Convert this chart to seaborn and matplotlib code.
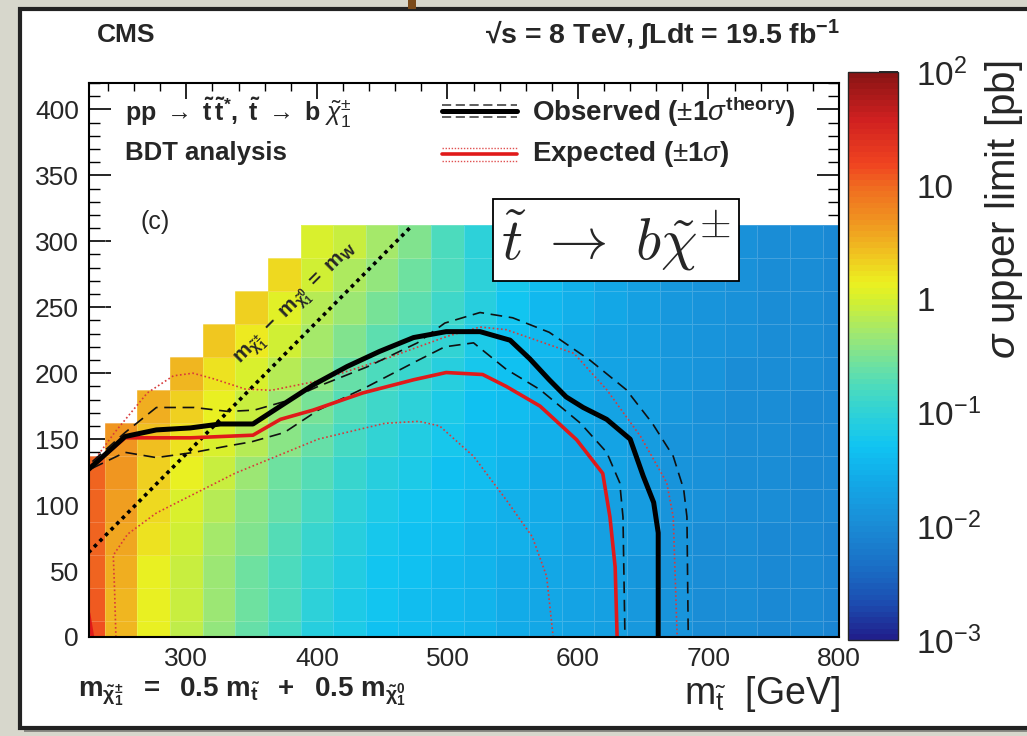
import numpy as np
import matplotlib
matplotlib.use("Agg")
import matplotlib.pyplot as plt
import seaborn as sns
from matplotlib.colors import LinearSegmentedColormap, LogNorm
from matplotlib.patches import Rectangle
from matplotlib.lines import Line2D
from matplotlib.ticker import MultipleLocator, LogLocator, FixedLocator, FixedFormatter, NullFormatter

# grid of signal points
m_stop = [225, 250, 275, 300, 325, 350, 375, 400, 425, 450, 475, 500,
          525, 550, 575, 600, 625, 650, 675, 700, 725, 750, 775, 800]
m_lsp = [0, 25, 50, 75, 100, 125, 150, 175, 200, 225, 250, 275, 300]

# sigma upper limit [pb], one list per m_stop column, bottom -> top
limit_pb = [
    [13, 12, 11, 11, 10, 10],
    [3.0, 3.0, 3.2, 3.6, 4.0, 4.5, 5.0],
    [1.3, 1.3, 1.4, 1.6, 1.8, 2.2, 2.6, 3.2],
    [0.75, 0.8, 0.85, 0.95, 1.1, 1.3, 1.6, 2.2, 3.0],
    [0.42, 0.45, 0.5, 0.55, 0.65, 0.8, 1.0, 1.3, 1.7, 2.5],
    [0.25, 0.26, 0.28, 0.32, 0.38, 0.5, 0.65, 0.85, 1.1, 1.5, 2.2],
    [0.15, 0.16, 0.17, 0.19, 0.23, 0.28, 0.36, 0.48, 0.65, 0.9, 1.2, 1.8],
    [0.085, 0.09, 0.1, 0.12, 0.15, 0.19, 0.23, 0.3, 0.4, 0.52, 0.7, 0.9, 1.1],
    [0.065, 0.068, 0.072, 0.08, 0.095, 0.12, 0.15, 0.19, 0.25, 0.33, 0.45, 0.6, 0.8],
    [0.05, 0.052, 0.055, 0.06, 0.07, 0.085, 0.1, 0.13, 0.17, 0.22, 0.3, 0.4, 0.55],
    [0.042, 0.043, 0.045, 0.05, 0.055, 0.065, 0.075, 0.09, 0.12, 0.15, 0.2, 0.27, 0.35],
    [0.036, 0.037, 0.038, 0.04, 0.045, 0.05, 0.058, 0.068, 0.085, 0.1, 0.13, 0.16, 0.17],
    [0.032, 0.032, 0.033, 0.034, 0.036, 0.04, 0.044, 0.05, 0.058, 0.068, 0.08, 0.09, 0.09],
    [0.028, 0.028, 0.028, 0.029, 0.031, 0.033, 0.036, 0.04, 0.045, 0.05, 0.056, 0.062, 0.07],
    [0.025, 0.025, 0.025, 0.026, 0.027, 0.028, 0.03, 0.032, 0.034, 0.036, 0.038, 0.04, 0.042],
    [0.022, 0.022, 0.022, 0.022, 0.023, 0.024, 0.025, 0.026, 0.027, 0.028, 0.029, 0.03, 0.03],
    [0.018, 0.018, 0.018, 0.019, 0.019, 0.02, 0.021, 0.021, 0.022, 0.022, 0.023, 0.023, 0.023],
    [0.015, 0.015, 0.015, 0.016, 0.016, 0.017, 0.017, 0.018, 0.018, 0.018, 0.018, 0.018, 0.018],
    [0.013, 0.013, 0.013, 0.013, 0.014, 0.014, 0.014, 0.015, 0.015, 0.015, 0.015, 0.015, 0.015],
    [0.011, 0.011, 0.011, 0.011, 0.012, 0.012, 0.012, 0.012, 0.013, 0.013, 0.013, 0.013, 0.013],
    [0.010, 0.010, 0.010, 0.010, 0.011, 0.011, 0.011, 0.011, 0.011, 0.012, 0.012, 0.012, 0.012],
    [0.0095, 0.0095, 0.0095, 0.0095, 0.010, 0.010, 0.010, 0.010, 0.010, 0.011, 0.011, 0.011, 0.011],
    [0.009, 0.009, 0.009, 0.009, 0.0095, 0.0095, 0.0095, 0.0095, 0.010, 0.010, 0.010, 0.010, 0.010],
    [0.0085, 0.0085, 0.0085, 0.0085, 0.009, 0.009, 0.009, 0.009, 0.0095, 0.0095, 0.0095, 0.0095, 0.0095],
]

# exclusion contours (m_stop, m_lsp)
obs_x = [225, 253, 277, 303, 326, 351, 372, 397, 423, 448, 474, 499, 525, 548, 563,
         578, 591, 604, 622, 640, 650, 658, 661.5, 661.5]
obs_y = [127, 152, 157, 158.5, 161.5, 161.5, 175, 191, 205, 216.5, 227, 231.5, 231.5, 225, 211,
         195, 182, 174, 165, 150, 122, 102, 79, 0]
obs_up_x = [228, 253, 277, 306, 332, 352, 375, 401, 439, 477, 498, 525, 550, 578, 609,
            637, 657, 673, 681, 683.5, 684.5]
obs_up_y = [133, 155, 174, 174, 171, 172, 178.5, 190, 205, 223, 238, 246, 242, 231, 210,
            187.5, 162, 137, 112, 91, 0]
obs_dn_x = [228, 253, 277, 306, 330, 350, 375, 401, 439, 478, 498, 520, 545, 571, 602,
            622, 632, 634.5, 636]
obs_dn_y = [128, 140, 136, 140, 144.5, 148, 155, 172, 190, 210, 220, 223, 203, 187.5, 162,
            140, 117, 91, 0]
exp_x = [225, 253, 282, 303, 351, 372, 397, 435, 474, 499, 527, 545, 571, 599, 619,
         624.5, 628.5, 630]
exp_y = [127, 151, 151, 151, 153, 165, 172, 185, 195, 200.5, 199, 190, 175, 149.5, 124,
         91, 53, 0]
exp_up_x = [225, 245, 270, 290, 305, 320, 345, 365, 400, 450, 500, 525, 545, 597, 622,
            648, 668, 673, 676]
exp_up_y = [128, 155, 185, 198, 200, 196, 188, 187, 194, 210, 228, 235, 233, 215, 187.5,
            152, 117, 91, 0]
exp_dn_x = [246, 245, 244, 255, 277, 337, 401, 452, 478, 494, 520, 545, 565, 576, 581]
exp_dn_y = [0, 35, 62, 78, 94, 124, 150, 162, 163.5, 160, 137, 104, 76, 46, 0]
exp_corner_x = [225, 228]
exp_corner_y = [18, 0]
# m_chargino - m_lsp = m_W
diag_x = [225, 473]
diag_y = [64, 312]

cbar_ticks = [1e-3, 1e-2, 1e-1, 1, 10, 100]
cbar_labels = [r"$10^{-3}$", r"$10^{-2}$", r"$10^{-1}$", "1", "10", r"$10^{2}$"]

sns.set_theme(style="ticks")
plt.rcParams["font.family"] = ["Liberation Sans", "DejaVu Sans"]
plt.rcParams["mathtext.fontset"] = "custom"
plt.rcParams["mathtext.rm"] = "Liberation Sans"
plt.rcParams["mathtext.it"] = "Liberation Sans:italic"
plt.rcParams["mathtext.bf"] = "Liberation Sans:bold"
plt.rcParams["mathtext.sf"] = "Liberation Sans"

W, H = 1027, 736
fig = plt.figure(figsize=(W / 100, H / 100), dpi=100, facecolor="#d7d7cc")


def fx(px):
    return px / W


def fy(py):
    return 1 - py / H


# slide frame
fig.patches.append(Rectangle((fx(24), fy(732)), fx(1010), 719 / H, transform=fig.transFigure,
                             fc="#8a8a84", ec="none", zorder=-3))
fig.patches.append(Rectangle((fx(20), fy(728)), fx(1010), 719 / H, transform=fig.transFigure,
                             fc="white", ec="#222222", lw=3, zorder=-2))
fig.patches.append(Rectangle((fx(408), fy(9)), fx(8), 9 / H, transform=fig.transFigure,
                             fc="#7a4a1a", ec="none", zorder=-2))

ax = fig.add_axes([fx(88.5), fy(637), fx(839 - 88.5), (637 - 83) / H])
cax = fig.add_axes([fx(848), fy(640), fx(50), (640 - 72) / H])

root_colors = [
    (-3.0, "#20208c"), (-2.7, "#1c4cb0"), (-2.4, "#1a6cc4"), (-2.0, "#1a8cd6"),
    (-1.6, "#12aae8"), (-1.3, "#10c4f2"), (-1.0, "#30d2d6"), (-0.8, "#48dac0"),
    (-0.6, "#6ae0a4"), (-0.3, "#a0e870"), (0.0, "#d4f030"), (0.15, "#ecf020"),
    (0.4, "#f0c420"), (0.7, "#f09420"), (1.0, "#f06c20"), (1.2, "#f04420"),
    (1.6, "#d02020"), (2.0, "#8a1414"),
]
cmap = LinearSegmentedColormap.from_list(
    "root", [((v + 3) / 5, c) for v, c in root_colors], N=100)
norm = LogNorm(vmin=1e-3, vmax=1e2)

xs = np.array(m_stop, dtype=float)
ys = np.array(m_lsp, dtype=float)
grid = np.full((len(ys), len(xs)), np.nan)
for i, col in enumerate(limit_pb):
    grid[:len(col), i] = col
x_edges = np.concatenate([[xs[0] - 12.5], (xs[:-1] + xs[1:]) / 2, [xs[-1] + 12.5]])
y_edges = np.concatenate([[ys[0] - 12.5], (ys[:-1] + ys[1:]) / 2, [ys[-1] + 12.5]])

mesh = ax.pcolormesh(x_edges, y_edges, np.ma.masked_invalid(grid), cmap=cmap, norm=norm,
                     edgecolors=(1, 1, 1, 0.18), linewidth=0.6)

# contours
sns.lineplot(x=diag_x, y=diag_y, ax=ax, color="black", lw=2.6, linestyle=(0, (1.0, 1.2)),
             sort=False, estimator=None)
for lx, ly in [(exp_up_x, exp_up_y), (exp_dn_x, exp_dn_y)]:
    sns.lineplot(x=lx, y=ly, ax=ax, color="#d83a3a", lw=1.2, linestyle=(0, (1, 1.5)),
                 sort=False, estimator=None)
for lx, ly in [(obs_up_x, obs_up_y), (obs_dn_x, obs_dn_y)]:
    sns.lineplot(x=lx, y=ly, ax=ax, color="#111111", lw=1.2, linestyle=(0, (7, 4)),
                 sort=False, estimator=None)
sns.lineplot(x=exp_x, y=exp_y, ax=ax, color="#e01a1a", lw=2.6, sort=False, estimator=None)
sns.lineplot(x=exp_corner_x, y=exp_corner_y, ax=ax, color="#e01a1a", lw=2.6, sort=False,
             estimator=None)
sns.lineplot(x=obs_x, y=obs_y, ax=ax, color="black", lw=3.6, sort=False, estimator=None)

ax.set_xlim(225, 800)
ax.set_ylim(0, 420)
ax.set_xlabel("")
ax.set_ylabel("")
ax.xaxis.set_major_locator(MultipleLocator(100))
ax.xaxis.set_minor_locator(MultipleLocator(20))
ax.yaxis.set_major_locator(MultipleLocator(50))
ax.yaxis.set_minor_locator(MultipleLocator(10))
ax.tick_params(axis="both", which="both", direction="in", top=True, right=True,
               color="black", labelsize=19)
ax.tick_params(axis="x", which="major", length=11.5, width=1.2, pad=7)
ax.tick_params(axis="x", which="minor", length=5.8, width=1.0)
ax.tick_params(axis="y", which="major", length=16, width=1.2, pad=7)
ax.tick_params(axis="y", which="minor", length=8, width=1.0)
for s in ax.spines.values():
    s.set_linewidth(1.5)
    s.set_color("black")
ax.set_facecolor("white")

# colorbar
cb = fig.colorbar(mesh, cax=cax)
cb.outline.set_linewidth(1.0)
cax.yaxis.set_major_locator(FixedLocator(cbar_ticks))
cax.yaxis.set_major_formatter(FixedFormatter(cbar_labels))
cax.yaxis.set_minor_locator(LogLocator(base=10, subs=np.arange(2, 10)))
cax.yaxis.set_minor_formatter(NullFormatter())
cax.tick_params(axis="y", which="both", direction="in", right=True, left=False,
                labelsize=24, color="black", pad=13)
cax.tick_params(axis="y", which="major", length=14, width=1.2)
cax.tick_params(axis="y", which="minor", length=7, width=0.9)

# text
fig.text(fx(97), fy(35), "CMS", fontsize=19, fontweight="bold", va="center", ha="left")
fig.text(fx(840), fy(35), r"√s = 8 TeV, ∫Ldt = 19.5 fb$^{\mathbf{-1}}$",
         fontsize=20.5, fontweight="bold", va="center", ha="right")
fig.text(fx(125), fy(113),
         r"$\mathbf{pp}\ \rightarrow\ \mathbf{\tilde{t}\,\tilde{t}^{*},\ \tilde{t}}\ \rightarrow\ \mathbf{b}\ \tilde{\chi}^{\pm}_{1}$",
         fontsize=18, va="center", ha="left")
fig.text(fx(125), fy(153), "BDT analysis", fontsize=18.5, fontweight="bold", va="center",
         ha="left")
fig.text(fx(140), fy(222), "(c)", fontsize=18, va="center", ha="left")

# legend samples
for y0, col, lw, ls in [(111, "black", 3.6, "-"), (105, "#333333", 1.1, (0, (6, 3))),
                        (117, "#333333", 1.1, (0, (6, 3))),
                        (154, "#e01a1a", 2.6, "-"), (148, "#e05050", 1.0, (0, (1, 1.2))),
                        (161, "#e05050", 1.0, (0, (1, 1.2)))]:
    fig.lines.append(Line2D([fx(442), fx(517)], [fy(y0), fy(y0)], transform=fig.transFigure,
                            color=col, lw=lw, linestyle=ls))
fig.text(fx(532), fy(112), r"Observed ($\pm$1$\sigma^{\mathbf{theory}}$)", fontsize=20,
         fontweight="bold", va="center", ha="left")
fig.text(fx(532), fy(154), r"Expected ($\pm$1$\sigma$)", fontsize=20, fontweight="bold",
         va="center", ha="left")

ax.text(629, 301, r"$\tilde{t}\ \rightarrow\ b\tilde{\chi}^{\pm}$", fontsize=42,
        math_fontfamily="cm", ha="center", va="center",
        bbox=dict(boxstyle="square,pad=0.14", fc="white", ec="black", lw=1.3))

fig.text(fx(297), fy(305),
         r"$\mathbf{m_{\tilde{\chi}^{\pm}_{1}}\ -\ m_{\tilde{\chi}^{0}_{1}}\ =\ m_{W}}$",
         fontsize=15, rotation=45, ha="center", va="center")

fig.text(fx(78), fy(692),
         r"$\mathbf{m_{\tilde{\chi}^{\pm}_{1}}\ \ =\ \ 0.5\ m_{\tilde{t}}\ \ +\ \ 0.5\ m_{\tilde{\chi}^{0}_{1}}}$",
         fontsize=20, va="center", ha="left")
fig.text(fx(840), fy(694), r"m$_{\tilde{\mathrm{t}}}$  [GeV]", fontsize=27, va="center",
         ha="right")
fig.text(fx(1004), fy(60), r"$\sigma$ upper limit [pb]", fontsize=29, rotation=90,
         va="top", ha="center")

fig.savefig("out.png", dpi=100, facecolor=fig.get_facecolor())
